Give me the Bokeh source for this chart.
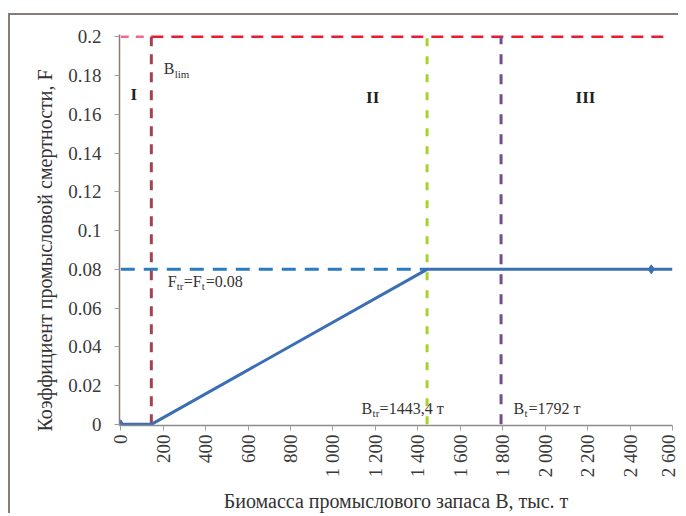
import math
from bokeh.plotting import figure
from bokeh.models import Range1d, FixedTicker, Title
from bokeh.core.properties import value
from bokeh.embed import file_html
from bokeh.resources import INLINE

# ---- data ----
x_ticks = [0, 200, 400, 600, 800, 1000, 1200, 1400, 1600, 1800, 2000, 2200, 2400, 2600]
x_tick_labels = ["0", "200", "400", "600", "800", "1 000", "1 200", "1 400", "1 600",
                 "1 800", "2 000", "2 200", "2 400", "2 600"]
y_ticks = [0, 0.02, 0.04, 0.06, 0.08, 0.1, 0.12, 0.14, 0.16, 0.18, 0.2]
y_tick_labels = ["0", "0.02", "0.04", "0.06", "0.08", "0.1", "0.12", "0.14", "0.16", "0.18", "0.2"]

b_lim = 144
b_tr = 1443.4
b_t = 1792
f_tr = 0.08
f_max = 0.2
red_end = 2580
b_end = 2600
b_marker = 2500

hcr_x = [0, b_lim, b_tr, b_end]
hcr_y = [0, 0, f_tr, f_tr]
marker_x = [0, b_marker]
marker_y = [0, f_tr]

zone_labels = ["I", "II", "III"]
zone_x = [61, 1187, 2190]
zone_y = [0.1703, 0.1687, 0.1687]

FONT = "Liberation Serif"
TXT = "#333333"

p = figure(width=670, height=500,
           x_range=Range1d(-6, 2600), y_range=Range1d(-0.0006, 0.2012),
           output_backend="svg", toolbar_location=None,
           min_border_left=109, min_border_right=8, min_border_top=19, min_border_bottom=88,
           styles={"border-left": "2px solid #857b77", "border-top": "2px solid #857b77",
                   "margin-top": "13px", "margin-left": "8px"})
p.outline_line_color = None
p.xgrid.grid_line_color = None
p.ygrid.grid_line_color = None
p.background_fill_color = "white"
p.border_fill_color = "white"

p.xaxis.ticker = FixedTicker(ticks=x_ticks)
p.xaxis.major_label_overrides = dict(zip(x_ticks, x_tick_labels))
p.yaxis.ticker = FixedTicker(ticks=y_ticks)
p.yaxis.major_label_overrides = dict(zip(y_ticks, y_tick_labels))

for ax in (p.xaxis, p.yaxis):
    ax.major_tick_in = 0
    ax.major_tick_out = 5
    ax.minor_tick_line_color = None
    ax.major_tick_line_color = "#a0a0a0"
    ax.major_label_text_font = FONT
    ax.major_label_text_font_size = "19px"
    ax.major_label_text_color = "#3a3a3a"
    ax.axis_label_text_font = FONT
    ax.axis_label_text_font_size = "20px"
    ax.axis_label_text_font_style = "normal"
    ax.axis_label_text_color = TXT
    ax.axis_line_width = 1.5

p.xaxis.axis_line_color = "#8c8c8c"
p.yaxis.axis_line_color = "#8c7b78"
p.xaxis.major_label_orientation = math.pi / 2
p.xaxis.major_label_standoff = 4
p.yaxis.major_label_standoff = 13
p.xaxis.axis_label = "Биомасса промыслового запаса B, тыс. т"
p.xaxis.axis_label_standoff = 10

# y-axis title as a side title (lets it sit lower than the frame centre, as in the source)
p.add_layout(Title(text="Коэффициент промысловой смертности, F", align="left", offset=-6,
                   standoff=20, text_font=FONT, text_font_size="20px",
                   text_font_style="normal", text_color=TXT), "left")

# reference lines
p.line([0, b_lim], [f_max, f_max], line_color="#f06a8a", line_width=2.5, line_dash="8 7")
p.line([b_lim, red_end], [f_max, f_max], line_color="#ec1c2e", line_width=2.5, line_dash="12 8")
p.line([b_lim, b_lim], [0, f_max], line_color="#a3434f", line_width=3, line_dash="10 8")
p.line([b_tr, b_tr], [0, f_max], line_color="#a6d22a", line_width=3, line_dash="8 10")
p.line([b_t, b_t], [0, f_max], line_color="#754f8c", line_width=3, line_dash="10 10")
p.line([0, b_tr], [f_tr, f_tr], line_color="#2a7bc0", line_width=3, line_dash="14 9")

# harvest control rule
p.line(hcr_x, hcr_y, line_color="#3b6eb4", line_width=3)
p.scatter(marker_x, marker_y, marker="diamond", size=9, color="#3b6eb4")

# zone labels
p.text(zone_x, zone_y, text=zone_labels, text_font=value(FONT), text_font_size="17px",
       text_font_style="bold", text_color="#222222", text_align="center", text_baseline="middle")


def sub_label(x, y, pieces):
    """pieces: list of (text, dx_px, is_sub)"""
    for txt, dx, is_sub in pieces:
        p.text([x], [y], text=[txt], x_offset=dx, y_offset=5 if is_sub else 0,
               text_font=value(FONT), text_font_size="11px" if is_sub else "16px",
               text_color=TXT, text_align="left", text_baseline="middle")


sub_label(202.5, 0.1836, [("B", 0, False), ("lim", 11, True)])
sub_label(221, 0.0738, [("F", 0, False), ("tr", 9, True), ("=F", 16, False),
                        ("t", 34, True), ("=0.08", 38, False)])
sub_label(1135, 0.0082, [("B", 0, False), ("tr", 11, True), ("=1443,4  т", 18, False)])
sub_label(1851, 0.0082, [("B", 0, False), ("t", 11, True), ("=1792  т", 15, False)])

open("out.html", "w").write(file_html(p, INLINE))
